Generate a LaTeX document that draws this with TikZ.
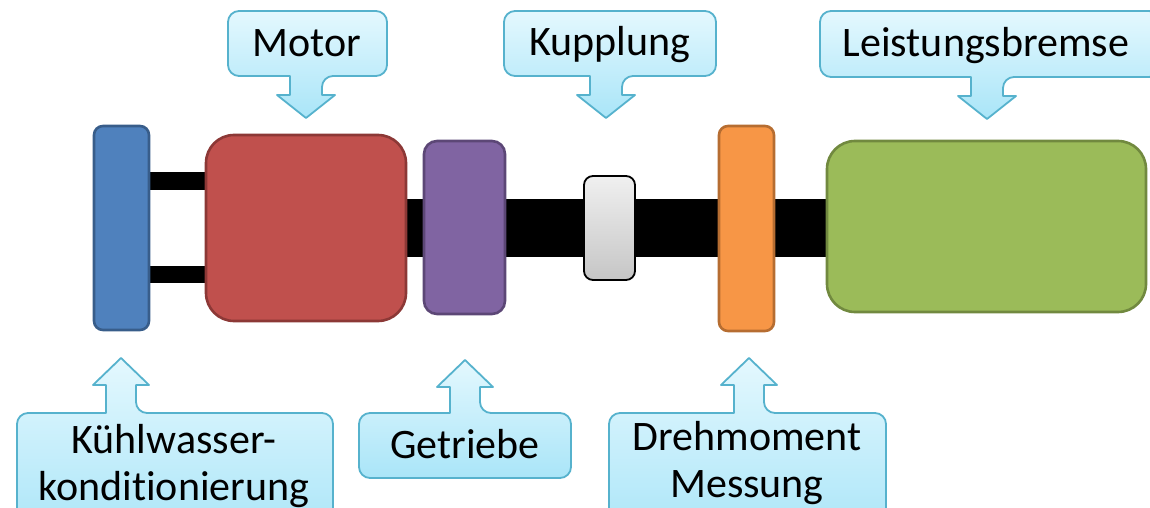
\documentclass[tikz,border=0pt]{standalone}
\usepackage{fontspec}
\setmainfont[Ligatures=NoCommon]{Carlito}
\definecolor{cfill1}{HTML}{E4F8FE}
\definecolor{cfill2}{HTML}{A9E5F8}
\definecolor{cline}{HTML}{56B2CD}
\definecolor{bluef}{HTML}{4F81BD}\definecolor{bluel}{HTML}{385D8A}
\definecolor{redf}{HTML}{C0504D}\definecolor{redl}{HTML}{8C3836}
\definecolor{purf}{HTML}{8064A2}\definecolor{purl}{HTML}{5C4776}
\definecolor{oraf}{HTML}{F79646}\definecolor{oral}{HTML}{B66D31}
\definecolor{grnf}{HTML}{9BBB59}\definecolor{grnl}{HTML}{71893F}
\tikzset{
  callout/.style={draw=cline, line width=1.8pt, top color=cfill1, bottom color=cfill2, line join=round},
  part/.style={line width=2.6pt},
  shaft/.style={fill=black},
  lbl/.style={font=\fontsize{42}{47}\selectfont, inner sep=0pt, align=center, anchor=base}
}
% down callout: L T R B c tip
\newcommand{\DownCallout}[6]{%
  \path[callout] (#1,{(#2+#4)/2}) [rounded corners=11pt] -- (#1,#2) -- (#3,#2) -- (#3,#4) -- ({#5+16},#4) [sharp corners] -- ({#5+16},{#6-23}) -- ({#5+29},{#6-23}) -- (#5,#6) -- ({#5-29},{#6-23}) -- ({#5-16},{#6-23}) -- ({#5-16},#4) [rounded corners=11pt] -- (#1,#4) -- cycle;}
% up callout: L T R B c tip
\newcommand{\UpCallout}[6]{%
  \path[callout] (#1,{(#2+#4)/2}) [rounded corners=11pt] -- (#1,#4) -- (#3,#4) -- (#3,#2) -- ({#5+15},#2) [sharp corners] -- ({#5+15},{#6+27}) -- ({#5+28},{#6+27}) -- (#5,#6) -- ({#5-28},{#6+27}) -- ({#5-15},{#6+27}) -- ({#5-15},#2) [rounded corners=11pt] -- (#1,#2) -- cycle;}
\begin{document}
\begin{tikzpicture}[x=1pt,y=-1pt]
\useasboundingbox (0,0) rectangle (1150,508);
\clip (0,0) rectangle (1150,508);
% shafts
\fill[shaft] (148,172) rectangle (208,190);
\fill[shaft] (148,266) rectangle (208,283);
\fill[shaft] (405,199) rectangle (828,257);
% parts
\draw[part, fill=bluef, draw=bluel, rounded corners=9pt] (94,126) rectangle (149,330);
\draw[part, fill=redf, draw=redl, rounded corners=28pt] (206,135) rectangle (406,321);
\draw[part, fill=purf, draw=purl, rounded corners=13pt] (424,141) rectangle (505,314);
\draw[line width=1.8pt, draw=black, top color=gray!12, bottom color=gray!45, rounded corners=9pt] (584,176) rectangle (635,280);
\draw[part, fill=oraf, draw=oral, rounded corners=9pt] (719,126) rectangle (774,331);
\draw[part, fill=grnf, draw=grnl, rounded corners=28pt] (827,141) rectangle (1146,312);
% top callouts
\DownCallout{228}{11}{387}{76}{306}{118}
\node[lbl] (motor) at (307,57) {Motor};
\DownCallout{504}{11}{716}{76}{606}{118}
\node[lbl] (kupplung) at (610,56) {Kupplung};
\DownCallout{820}{11}{1160}{77}{987}{119}
\node[lbl] (bremse) at (986,57) {Leistungsbremse};
% bottom callouts
\UpCallout{17}{413}{333}{540}{121}{358}
\node[lbl] (kuehl) at (174,500) {Kühlwasser-\\konditionierung};
\UpCallout{359}{413}{571}{478}{465}{360}
\node[lbl] (getriebe) at (465,458) {Getriebe};
\UpCallout{609}{413}{886}{540}{749}{358}
\node[lbl] (dreh) at (747,497) {Drehmoment\\Messung};
\end{tikzpicture}
\end{document}
